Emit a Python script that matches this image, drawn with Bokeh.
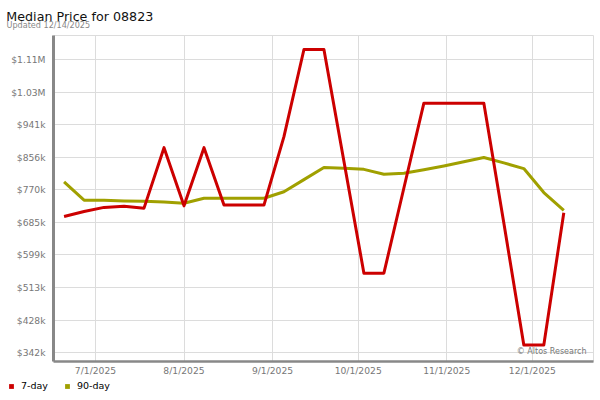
import pandas as pd
from bokeh.plotting import figure
from bokeh.layouts import column
from bokeh.models import FixedTicker, Label, Legend, LegendItem, Range1d, ColumnDataSource
from bokeh.embed import file_html
from bokeh.resources import INLINE

# ---------------- data ----------------
title_text = "Median Price for 08823"
subtitle_text = "Updated 12/14/2025"
credit_text = "© Altos Research"

week_dates = ["2025-06-20", "2025-06-27", "2025-07-04", "2025-07-11", "2025-07-18",
              "2025-07-25", "2025-08-01", "2025-08-08", "2025-08-15", "2025-08-22",
              "2025-08-29", "2025-09-05", "2025-09-12", "2025-09-19", "2025-09-26",
              "2025-10-03", "2025-10-10", "2025-10-17", "2025-10-24", "2025-10-31",
              "2025-11-07", "2025-11-14", "2025-11-21", "2025-11-28", "2025-12-05",
              "2025-12-12"]

price_7day = [700000, 713000, 724000, 727000, 722000, 881000, 728000, 881000, 730000,
              730000, 730000, 910000, 1139000, 1139000, 845000, 551000, 551000, 775000,
              998000, 998000, 998000, 998000, 683000, 362000, 362000, 710000]

price_90day = [791000, 743000, 743000, 741000, 740000, 738000, 735000, 748000, 748000,
               748000, 748000, 765000, 797000, 829000, 827000, 824000, 811000, 814000,
               823000, 833000, 844000, 855000, 841000, 826000, 763000, 716000]

series_names = ["7-day", "90-day"]
series_colors = ["#cc0000", "#a0a000"]

y_ticks = [342200, 427800, 513400, 599000, 684600, 770200, 855800, 941400, 1027000, 1112600]
y_tick_labels = ["$342k", "$428k", "$513k", "$599k", "$685k", "$770k", "$856k",
                 "$941k", "$1.03M", "$1.11M"]

x_tick_dates = ["2025-07-01", "2025-08-01", "2025-09-01", "2025-10-01", "2025-11-01", "2025-12-01"]
x_tick_labels = ["7/1/2025", "8/1/2025", "9/1/2025", "10/1/2025", "11/1/2025", "12/1/2025"]

# ---------------- helpers ----------------
EPOCH = pd.Timestamp("1970-01-01")
def to_ms(s):
    return (pd.Timestamp(s) - EPOCH) // pd.Timedelta(milliseconds=1)

DAY = 86400000
x_tick_ms = [to_ms(d) for d in x_tick_dates]

src = ColumnDataSource(dict(
    date=pd.to_datetime(week_dates),
    p7=price_7day,
    p90=price_90day,
))

FONT = "DejaVu Sans"
W = 600


def no_align(f):
    try:
        f.frame_align = False
    except Exception:
        pass


def blank_fig(h):
    f = figure(width=W, height=h, output_backend="svg", toolbar_location=None,
               x_axis_location=None, y_axis_location=None,
               min_border=0, min_border_left=0, min_border_right=0,
               min_border_top=0, min_border_bottom=0,
               x_range=Range1d(0, 1), y_range=Range1d(0, 1))
    f.outline_line_color = None
    f.grid.grid_line_color = None
    f.background_fill_color = "white"
    f.border_fill_color = "white"
    no_align(f)
    return f


# ---------------- header ----------------
head = blank_fig(35)
head.add_layout(Label(x=5.8, y=19.2, x_units="screen", y_units="screen", text=title_text,
                      text_font=FONT, text_font_size="12.7px", text_color="#111111",
                      text_baseline="alphabetic"))
head.add_layout(Label(x=6, y=10.2, x_units="screen", y_units="screen", text=subtitle_text,
                      text_font=FONT, text_font_size="8.1px", text_color="#888888",
                      text_baseline="alphabetic"))

# ---------------- main plot ----------------
p = figure(width=W, height=343, x_axis_type="datetime",
           output_backend="svg", toolbar_location=None,
           min_border_left=53, min_border_right=7, min_border_top=0, min_border_bottom=14,
           x_range=Range1d(x_tick_ms[0] - 14.7 * DAY, x_tick_ms[-1] + 21.4 * DAY),
           y_range=Range1d(318800, 1175900))
no_align(p)

p.background_fill_color = "white"
p.border_fill_color = "white"
p.outline_line_color = "#dcdcdc"
p.outline_line_width = 1

xt = FixedTicker(ticks=x_tick_ms)
yt = FixedTicker(ticks=y_ticks)
p.xaxis.ticker = xt
p.yaxis.ticker = yt
p.xgrid.ticker = xt
p.ygrid.ticker = yt
p.xaxis.major_label_overrides = {t: l for t, l in zip(x_tick_ms, x_tick_labels)}
p.yaxis.major_label_overrides = {t: l for t, l in zip(y_ticks, y_tick_labels)}

for ax in (p.xaxis, p.yaxis):
    ax.axis_line_color = "#888888"
    ax.major_tick_line_color = None
    ax.minor_tick_line_color = None
    ax.major_tick_out = 0
    ax.major_tick_in = 0
    ax.minor_tick_out = 0
    ax.minor_tick_in = 0
    ax.major_label_text_color = "#777777"
    ax.major_label_text_font = FONT
    ax.major_label_text_font_size = "9.2px"
p.yaxis.axis_line_width = 3
p.xaxis.axis_line_width = 2.5
p.yaxis.major_label_standoff = 8
p.xaxis.major_label_standoff = 3

for g in (p.xgrid, p.ygrid):
    g.grid_line_color = "#dcdcdc"
    g.grid_line_width = 1

p.line("date", "p90", source=src, line_color=series_colors[1], line_width=3,
       line_join="round")
p.line("date", "p7", source=src, line_color=series_colors[0], line_width=3,
       line_join="round")

p.add_layout(Label(x=533, y=10, x_units="screen", y_units="screen", text=credit_text,
                   text_font=FONT, text_font_size="8px", text_color="#777777",
                   text_align="right", text_baseline="middle"))

# ---------------- legend strip ----------------
# swatch renderers reuse the series data; the strip's ranges keep them off-screen,
# they only provide the square legend glyphs.
leg = blank_fig(22)
sw7 = leg.rect(x="date", y="p7", source=src, width=1, height=1,
               fill_color=series_colors[0], line_color=None)
sw90 = leg.rect(x="date", y="p90", source=src, width=1, height=1,
                fill_color=series_colors[1], line_color=None)
legend = Legend(items=[LegendItem(label=series_names[0], renderers=[sw7]),
                       LegendItem(label=series_names[1], renderers=[sw90])],
                location=(8, 9), orientation="horizontal",
                padding=0, margin=0, spacing=16, label_standoff=7,
                glyph_width=6, glyph_height=6, label_height=6, label_width=10,
                border_line_color=None, background_fill_alpha=0,
                label_text_font=FONT, label_text_font_size="9.5px",
                label_text_font_style="normal",
                label_text_color="#000000")
leg.add_layout(legend, "center")

layout = column(head, p, leg, spacing=0)
open("out.html", "w").write(file_html(layout, INLINE))
